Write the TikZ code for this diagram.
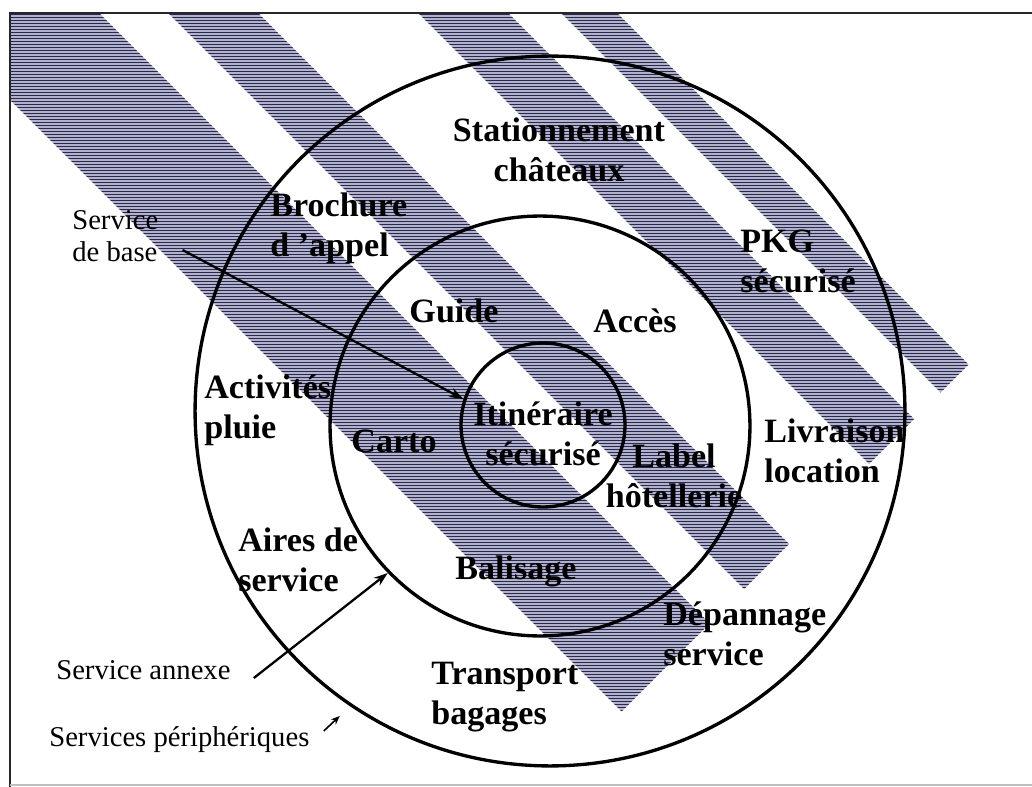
\documentclass[tikz,border=0pt]{standalone}
\usepackage{fontspec}
\setmainfont{Liberation Serif}
\usepackage{tikz}
\usetikzlibrary{arrows.meta, positioning, calc}

\definecolor{hatch}{RGB}{40,40,84}
\definecolor{hatchbg}{RGB}{178,178,200}

\begin{document}
\begin{tikzpicture}[x=0.02cm, y=-0.02cm,
    ring/.style={draw, circle, line width=1.9pt, inner sep=0pt},
    hatchline/.style={draw=hatch, line width=0.03cm},
    lbl/.style={font=\fontsize{19.4}{22.8}\selectfont\bfseries, inner sep=0pt, align=left},
    side/.style={font=\fontsize{16.3}{18.2}\selectfont, inner sep=0pt, align=left},
    conn/.style={line width=1.3pt, -{Stealth[length=8pt, width=5.5pt]}}]
    \useasboundingbox (0,0) rectangle (1032,787);

    % diagonal hatched bands
    \begin{scope}
        \clip (10,13) rectangle (1032,785);
        \path[clip] \foreach \a/\b in {-90/86, 155/245, 405/495, 548/604} {
            ({\a+13},13) -- ({\b+13},13)
            -- ({(1333+\b)/2},{(1333-\b)/2}) -- ({(1333+\a)/2},{(1333-\a)/2}) -- cycle};
        \fill[hatchbg] (10,13) rectangle (1032,785);
        \foreach \y in {14.5,17.5,...,785}
            \draw[hatchline] (10,\y) -- (1032,\y);
    \end{scope}

    % frame
    \draw[line width=1.2pt, black!85] (1032,13) -- (10,13) -- (10,787);
    \draw[line width=0.6pt, black!25] (10,785) -- (1032,785);

    % rings
    \node[ring, minimum size=14.2cm] (outer) at (550,411) {};
    \node[ring, minimum size=8.4cm] (middle) at (540,426) {};
    \node[ring, minimum size=3.28cm] (inner) at (543,425) {};

    % outer ring
    \node[lbl, align=center] (stat) at (559,150) {Stationnement\\châteaux};
    \node[lbl, anchor=west] (broch) at (270,228) {Brochure\\d ’appel};
    \node[lbl, anchor=west] (pkg) at (740,261) {PKG\\sécurisé};
    \node[lbl, anchor=west] (activ) at (204,410) {Activités\\pluie};
    \node[lbl, anchor=west] (livr) at (764,451) {Livraison\\location};
    \node[lbl, anchor=west] (aires) at (238,560) {Aires de\\service};
    \node[lbl, anchor=west] (depan) at (663,634) {Dépannage\\service};
    \node[lbl, anchor=west] (transp) at (431,697) {Transport\\bagages};

    % middle ring
    \node[lbl] (guide) at (454,311) {Guide};
    \node[lbl] (acces) at (635,321) {Accès};
    \node[lbl] (carto) at (394,441) {Carto};
    \node[lbl, align=center] (label) at (674,476) {Label\\hôtellerie};
    \node[lbl] (balis) at (516,571) {Balisage};

    % core
    \node[lbl, align=center] (itin) at (543,434) {Itinéraire\\sécurisé};

    % side captions
    \node[side, anchor=west] (base) at (72,236) {Service\\de base};
    \node[side, anchor=west] (annexe) at (56,670) {Service annexe};
    \node[side, anchor=west] (peri) at (49,740) {Services périphériques};

    \draw[conn] ($(base.east)+(24,14)$) -- (inner.162);
    \draw[conn] ($(annexe.east)+(23,8)$) -- (middle.224);
    \draw[line width=0.9pt, -{Stealth[length=5pt, width=4pt]}] ($(peri.east)+(14,-9)$) -- ++(16,-15);
\end{tikzpicture}
\end{document}
